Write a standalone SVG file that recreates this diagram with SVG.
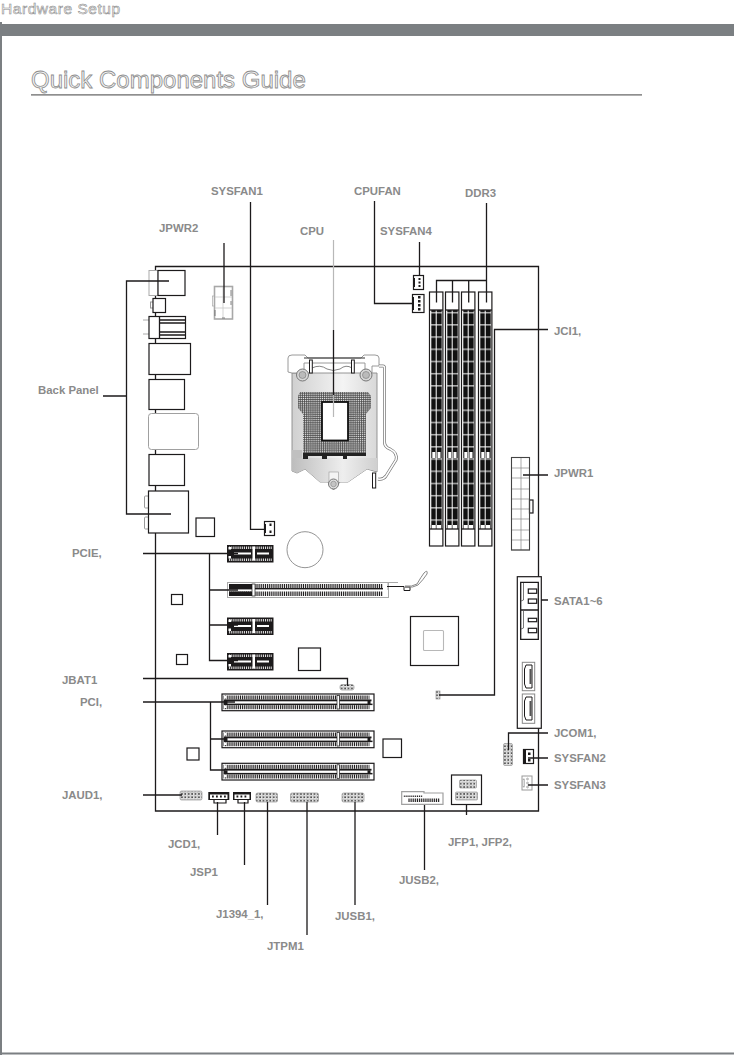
<svg xmlns="http://www.w3.org/2000/svg" xmlns:xlink="http://www.w3.org/1999/xlink" width="734" height="1055" viewBox="0 0 734 1055">
<style>
text{font-family:"Liberation Sans",Arial,sans-serif}
.l{font-size:11.4px;font-weight:700;fill:#8a8a8a}
.c{fill:none;stroke:#1c1a1b;stroke-width:1.3}
.b{fill:#fff;stroke:#1c1a1b;stroke-width:1.2}
.g{fill:#fff;stroke:#a8a8a8;stroke-width:1}
.k{fill:#1c1a1b}
.w{fill:#fff}
.hd{fill:url(#pins);stroke:#999;stroke-width:.7}
</style>
<defs>
<pattern id="dash" width="20" height="12.2" patternUnits="userSpaceOnUse" y="3"><rect width="20" height="12.2" fill="#111"/><rect width="20" height="1" y="5" fill="#fff"/></pattern>
<pattern id="comb" width="1.9" height="4" patternUnits="userSpaceOnUse"><rect width="1.9" height="4" fill="#1c1a1b"/><rect width=".85" height="4" fill="#fff"/></pattern>
<pattern id="grid" width="1.9" height="1.9" patternUnits="userSpaceOnUse"><rect width="1.9" height="1.9" fill="#ececec"/><rect width="1.9" height=".75" fill="#444"/><rect width=".75" height="1.9" fill="#444"/></pattern>
<pattern id="pins" width="3.4" height="3.4" patternUnits="userSpaceOnUse"><rect width="3.4" height="3.4" fill="#e8e8e8"/><rect x="1" y="1" width="1.5" height="1.5" fill="#333"/><path d="M0 .2H3.400M.2 0V3.400" stroke="#aaa" stroke-width=".5"/></pattern>
<linearGradient id="sock" x1="0" x2="1" y1="0" y2="0"><stop offset="0" stop-color="#d0d0d0"/><stop offset=".6" stop-color="#f4f4f4"/><stop offset="1" stop-color="#d8d8d8"/></linearGradient>
<linearGradient id="band" x1="0" x2="1" y1="0" y2="0"><stop offset="0" stop-color="#bdbdbd"/><stop offset=".6" stop-color="#eeeeee"/><stop offset="1" stop-color="#cfcfcf"/></linearGradient>
<g id="dimm">
<rect class="b" x="0" y="0" width="13.4" height="254"/>
<rect x="1.8" y="18" width="4.400" height="215" fill="url(#dash)"/>
<rect x="7.200" y="18" width="5" height="215" fill="url(#dash)"/>
<rect x="2.800" y="160" width="3" height="6" fill="#fff"/><rect x="8" y="160" width="3" height="6" fill="#fff"/>
<line class="c" x1="0" x2="13.4" y1="18" y2="18"/>
<line class="c" x1="0" x2="13.4" y1="237" y2="237"/>
<line x1="1.800" x2="1.800" y1="233" y2="237" stroke="#1c1a1b" stroke-width=".7"/><line x1="6.700" x2="6.700" y1="233" y2="237" stroke="#1c1a1b" stroke-width=".7"/><line x1="12" x2="12" y1="233" y2="237" stroke="#1c1a1b" stroke-width=".7"/>
</g>
<g id="pcie">
<rect class="k" width="46.5" height="17.5"/>
<rect x="1.5" y="1.5" width="43.5" height="2.5" fill="url(#comb)"/>
<rect x="1.5" y="13.5" width="43.5" height="2.5" fill="url(#comb)"/>
<rect x="7" y="7.5" width="17" height="2" class="w"/><rect x="30" y="7.5" width="12" height="2" class="w"/>
<rect x="25.5" y="1.5" width="2.5" height="14" class="w"/>
<rect x="1.5" y="2" width="2.5" height="2.5" class="w"/><rect x="1.5" y="11" width="2.5" height="2.5" class="w"/>
</g>
<g id="pci">
<rect class="b" x="0" y="0" width="152" height="16.700"/>
<rect x="1.500" y="1.500" width="146" height="4" fill="url(#comb)"/>
<rect x="1.500" y="11.200" width="146" height="4" fill="url(#comb)"/>
<rect x="1.500" y="5.500" width="148" height="1.800" class="k"/>
<rect x="1.500" y="9.600" width="149" height="1.500" class="k"/>
<rect x="1.500" y="7" width="4" height="3" class="k"/><rect x="145.500" y="7" width="3" height="3" class="k"/>
<rect x="115" y="1.500" width="2.500" height="13.500" fill="#fff" stroke="#1c1a1b" stroke-width=".7"/>
<rect x="2" y="2" width="2.500" height="2.500" class="w"/><rect x="2" y="11.500" width="2.500" height="2.500" class="w"/>
</g>
</defs>
<g id="page">
<rect width="734" height="1055" fill="#fff"/>
<rect x="0" y="24" width="734" height="12" fill="#7b7f82"/>
<rect x="0" y="22" width="2" height="1033" fill="#7b7f82"/>
<rect x="0" y="1052.500" width="734" height="2" fill="#7b7f82"/>
<text x="1" y="13.500" font-size="15.500" letter-spacing=".55" fill="#f4f4f4" stroke="#8a8a8a" stroke-width=".55">Hardware Setup</text>
<text x="31" y="88" font-size="24" fill="#f4f4f4" stroke="#8d8d8d" stroke-width=".8">Quick Components Guide</text>
<rect x="31" y="94" width="611" height="1.700" fill="#8f8f8f"/>
</g>
<g id="board"><path class="c" d="M155.500 811V266.500H538.500V811Z"/></g>
<g id="back-panel">
<rect x="149" y="270.500" width="9" height="25" fill="#fff" stroke="#aaa"/>
<rect class="b" x="158" y="270.500" width="27" height="25"/>
<rect x="150.500" y="302" width="3" height="6" fill="#fff" stroke="#999"/>
<rect class="b" x="153" y="298.500" width="12.500" height="14"/>
<path d="M143 320H149M143 334H149" stroke="#aaa"/>
<rect class="b" x="149" y="316.500" width="36.500" height="22"/>
<path class="c" d="M159.500 316.500V338.500M159.500 320H185.500M159.500 323H185.500M159.500 332H185.500M159.500 335H185.500" stroke-width="1"/>
<rect class="b" x="149" y="343.500" width="41.500" height="31"/>
<rect class="b" x="149" y="379.500" width="35.500" height="30"/>
<rect x="148.500" y="413.500" width="50" height="36" rx="3" fill="#fff" stroke="#a0a0a0"/>
<rect class="b" x="149" y="454.500" width="35.500" height="31"/>
<rect x="144.500" y="496" width="4" height="12" rx="1" fill="#fff" stroke="#999"/>
<rect x="144.500" y="517" width="4" height="12" rx="1" fill="#fff" stroke="#999"/>
<rect class="b" x="148.500" y="491" width="40" height="42"/>
</g>
<g id="jpwr2">
<rect x="212.500" y="296" width="2" height="10" fill="#fff" stroke="#aaa" stroke-width=".7"/>
<rect x="214.500" y="286.500" width="18" height="32.500" fill="#fff" stroke="#a8a8a8" stroke-width="1.600"/>
<path d="M223 287V319M215 297H232M215 308H232" stroke="#c8c8c8" stroke-width=".8"/>
<path d="M231 290V296M231 301V305M222 318H225M215 310V316" stroke="#666" stroke-width=".8"/>
</g>
<g id="sysfan4"><rect class="b" x="413.500" y="275.500" width="10" height="14"/><rect class="k" x="414" y="278" width="1" height="9"/><rect class="k" x="418.500" y="278" width="2" height="2"/><rect class="k" x="418.500" y="281.500" width="2" height="2"/><rect class="k" x="418.500" y="285" width="2" height="2"/></g>
<g id="cpufan"><rect class="b" x="412.500" y="294.500" width="11.500" height="18"/><rect class="k" x="413" y="297" width="1" height="13"/><rect class="k" x="418" y="296" width="2.500" height="2.500"/><rect class="k" x="418" y="300" width="2.500" height="2.500"/><rect class="k" x="418" y="304" width="2.500" height="2.500"/><rect class="k" x="418" y="308" width="2.500" height="2.500"/></g>
<g id="ddr3">
<use xlink:href="#dimm" href="#dimm" x="429.500" y="292"/>
<use xlink:href="#dimm" href="#dimm" x="445.500" y="292"/>
<use xlink:href="#dimm" href="#dimm" x="461.500" y="292"/>
<use xlink:href="#dimm" href="#dimm" x="478.500" y="292"/>
</g>
<g id="cpu">
<path d="M292 373H377V472L367 469L348 482H340L333.500 490L328 482H320L305 469L297 473L292 471Z" fill="url(#sock)" stroke="#8a8a8a" stroke-width=".9"/>
<path d="M292 450H302V458H292Z" fill="#c0c0c0"/>
<path d="M292 458H377V471L367 469L348 482H320L305 469L297 473L292 471Z" fill="url(#band)"/>
<path d="M300 392H368L371 396V408L366 414V453H303V414L298 408V396Z" fill="url(#grid)"/>
<path d="M303 453H366V456H347V459H343V456H327V459H322V456H308V459H303Z" fill="#222"/>
<rect x="307" y="413" width="6" height="8" fill="#888" opacity=".35"/><rect x="355" y="413" width="6" height="8" fill="#888" opacity=".35"/><rect x="307" y="443" width="6" height="8" fill="#888" opacity=".35"/><rect x="331" y="443" width="6" height="8" fill="#888" opacity=".35"/><rect x="355" y="443" width="6" height="8" fill="#888" opacity=".35"/>
<rect x="322" y="402" width="26" height="38.500" fill="#fff" stroke="#111" stroke-width="1.800"/>
<path d="M288 372V358Q288 355 292 355H305L308 358H361L364 355H375Q379 355 379 358V366H372V373H365V363H304V373H292Z" fill="#fff" stroke="#8e8e8e" stroke-width=".9"/>
<path d="M304 358H365" stroke="#333" stroke-width="1.200"/>
<path d="M312 368Q320 364 327 369Q333 372 340 369Q346 364 352 368" fill="#fff" stroke="#777" stroke-width=".9"/>
<rect x="309.500" y="360" width="2.800" height="13" fill="#fff" stroke="#1c1a1b"/><rect x="351.500" y="360" width="2.800" height="13" fill="#fff" stroke="#1c1a1b"/>
<circle cx="302.500" cy="375" r="6" fill="#d8d8d8" stroke="#777"/><circle cx="302.500" cy="375" r="3.500" fill="#bbb" stroke="#777" stroke-width=".6"/>
<circle cx="366" cy="375" r="6" fill="#d8d8d8" stroke="#777"/><circle cx="366" cy="375" r="3.500" fill="#bbb" stroke="#777" stroke-width=".6"/>
<rect x="329" y="472" width="9.500" height="11" fill="#f4f4f4" stroke="#999" stroke-width=".6"/>
<circle cx="333.500" cy="484" r="5" fill="#ddd" stroke="#777"/><circle cx="333.500" cy="484" r="2.800" fill="#c4c4c4" stroke="#777" stroke-width=".5"/>
<path d="M379 366H383Q384.500 366 384.500 368V442Q384.500 447 390 449Q398 453 396 460L386 476Q383 480 378 479" fill="none" stroke="#7a7a7a" stroke-width="3"/>
<path d="M379 366H383Q384.500 366 384.500 368V442Q384.500 447 390 449Q398 453 396 460L386 476Q383 480 378 479" fill="none" stroke="#fff" stroke-width="1.500"/>
<rect x="372.500" y="473" width="3.200" height="15" fill="#fff" stroke="#1c1a1b"/>
</g>
<g id="jpwr1">
<rect class="g" x="511.500" y="457.500" width="18" height="92.500"/>
<path d="M521 458V550M512 468H529M512 478H529M512 489H529M512 499H529M512 509H529M512 519H529M512 530H529M512 540H529" stroke="#888" stroke-width=".7"/>
<rect class="b" x="529.500" y="500" width="3.500" height="13"/>
<rect x="511.500" y="457.500" width="18" height="92.500" fill="none" stroke="#444" stroke-width="1.100"/>
</g>
<g id="sysfan1"><rect class="b" x="264.500" y="521.500" width="10" height="14"/><rect class="k" x="265" y="524" width="1" height="9"/><rect class="k" x="269.500" y="523.500" width="2" height="2.500"/><rect class="k" x="269.500" y="530.500" width="2" height="2.500"/></g>
<g id="chips">
<rect class="b" x="196" y="518" width="18.500" height="18.500"/>
<circle cx="305" cy="549.700" r="18" fill="#fff" stroke="#888" stroke-width=".9"/>
<rect class="b" x="171.500" y="594.500" width="11" height="10"/>
<rect class="b" x="176.500" y="654.500" width="11" height="10"/>
<rect class="b" x="298.500" y="648" width="22" height="22.500"/>
<rect class="b" x="187" y="748" width="12" height="12"/>
<rect class="b" x="383" y="739" width="18.500" height="18.500"/>
</g>
<g id="pcie-slots">
<use xlink:href="#pcie" href="#pcie" x="227" y="545"/>
<use xlink:href="#pcie" href="#pcie" x="227" y="617.500"/>
<use xlink:href="#pcie" href="#pcie" x="227" y="653"/>
<rect x="227.500" y="582.500" width="161" height="15" fill="#fff" stroke="#a8a8a8"/>
<rect x="229" y="584" width="154" height="4" fill="url(#comb)"/>
<rect x="229" y="591.500" width="154" height="4.500" fill="url(#comb)"/>
<rect x="229" y="584" width="25" height="4" class="k"/><rect x="229" y="591.500" width="25" height="4.500" class="k"/>
<rect x="229" y="588" width="154" height="1.400" class="k"/>
<rect x="252" y="584" width="3" height="12" fill="#fff" stroke="#1c1a1b" stroke-width=".7"/>
<path d="M383 582.500H398M388 582.500V590" fill="none" stroke="#a8a8a8"/>
<path d="M387 586.500H404V590.500H410V587H405" fill="#fff" stroke="#1c1a1b"/>
<path d="M405 586Q412 587 417 584Q421 577 424 573Q428 569 427 574Q423 580 418 585Q412 588 408 587" fill="none" stroke="#888"/>
</g>
<g id="pci-slots">
<use xlink:href="#pci" href="#pci" x="222" y="694"/>
<use xlink:href="#pci" href="#pci" x="222" y="731"/>
<use xlink:href="#pci" href="#pci" x="222" y="763.300"/>
</g>
<g id="jbat1"><rect x="340" y="684.500" width="14" height="5.500" rx="2" class="hd"/></g>
<g id="chipset">
<rect class="b" x="410.500" y="616.500" width="48" height="49"/>
<rect x="423.500" y="630.500" width="20" height="20" rx="1" fill="#fff" stroke="#b8b8b8" stroke-width="1.100"/>
</g>
<g id="jci1"><rect x="436" y="691" width="4" height="8" class="hd"/></g>
<g id="sata">
<rect class="b" x="517.300" y="576.700" width="24" height="151.600"/>
<path class="c" d="M538.300 582.300H520.700V639.300H538.300ZM520.700 610H538.300"/>
<path d="M523.500 583V600L521 601M523.500 611V628L521 629" fill="none" stroke="#555" stroke-width=".8"/>
<rect class="b" x="528.300" y="589" width="8.400" height="4.300"/><rect class="b" x="528.300" y="599" width="8.400" height="4.300"/>
<rect class="b" x="528.300" y="618.300" width="8.400" height="3.400"/><rect class="b" x="528.300" y="628.300" width="8.400" height="4.400"/>
<rect x="522.300" y="662.300" width="12.400" height="28.400" fill="#fff" stroke="#888"/>
<rect x="522.300" y="694" width="12.400" height="29.300" fill="#fff" stroke="#888"/>
<path d="M526 665H532V688H526L524.500 684V669Z" fill="#fff" stroke="#1c1a1b"/>
<path d="M526 697H532V720H526L524.500 716V701Z" fill="#fff" stroke="#1c1a1b"/>
<rect x="529.500" y="669" width="2" height="15" fill="#555"/><rect x="529.500" y="701" width="2" height="15" fill="#555"/>
</g>
<g id="jcom1"><rect x="503.500" y="743.500" width="9" height="22" rx="1.500" class="hd"/></g>
<g id="sysfan2"><rect class="b" x="523.500" y="749.500" width="10" height="14"/><rect class="k" x="524" y="750" width="2" height="13"/><rect class="k" x="528" y="752.500" width="2.500" height="2.500"/><rect class="k" x="528" y="759" width="2.500" height="2.500"/></g>
<g id="sysfan3"><rect x="522" y="776" width="10" height="14" fill="#fff" stroke="#999"/><rect x="523" y="779" width="1.500" height="8" fill="#fff" stroke="#999" stroke-width=".6"/><circle cx="527.500" cy="779" r=".9" fill="none" stroke="#777" stroke-width=".6"/><circle cx="527.500" cy="783" r=".9" fill="none" stroke="#777" stroke-width=".6"/><circle cx="527.500" cy="787" r=".9" fill="none" stroke="#777" stroke-width=".6"/></g>
<g id="jaud1"><rect x="180" y="791" width="22" height="9" rx="1.500" class="hd"/></g>
<g id="jcd1"><path d="M214 799V803H226V799" class="b"/><rect class="k" x="208.300" y="792" width="21" height="8"/><rect class="w" x="210" y="794.500" width="17.500" height="4.500"/><rect class="k" x="212" y="795.500" width="1.800" height="2"/><rect class="k" x="216" y="795.500" width="1.800" height="2"/><rect class="k" x="220" y="795.500" width="1.800" height="2"/><rect class="k" x="224" y="795.500" width="1.800" height="2"/></g>
<g id="jsp1"><path d="M238 799V803H248V799" class="b"/><rect class="k" x="233" y="792" width="18" height="8"/><rect class="w" x="234.500" y="794.500" width="15" height="4.500"/><rect class="k" x="236.500" y="795.500" width="1.800" height="2"/><rect class="k" x="240.500" y="795.500" width="1.800" height="2"/><rect class="k" x="244.500" y="795.500" width="1.800" height="2"/></g>
<g id="j1394"><rect x="256" y="793" width="21.500" height="9" rx="1.500" class="hd"/></g>
<g id="jtpm1"><rect x="290.500" y="793" width="28" height="9" rx="1.500" class="hd"/></g>
<g id="jusb1"><rect x="342" y="793" width="22" height="9" rx="1.500" class="hd"/></g>
<g id="jusb2"><path d="M401.700 791.700H424V793H443V804.300H401.700Z" fill="#fff" stroke="#a0a0a0" stroke-width="1.200"/><rect x="403.500" y="795.500" width="19" height="1.500" fill="url(#comb)"/><rect x="408" y="798.500" width="32" height="3.500" fill="url(#comb)"/></g>
<g id="jfp">
<rect class="b" x="451.500" y="775" width="30" height="29.500"/>
<rect x="459.500" y="780" width="17" height="8" rx="1" class="hd"/>
<rect x="455.500" y="792" width="22" height="8" rx="1" class="hd"/>
</g>
<g id="connectors">
<path class="c" d="M103 396H126.500M169 281H126.500V514H171"/>
<path class="c" d="M250.500 202V529.300H266"/>
<path class="c" d="M224 243V303"/>
<path class="c" d="M374.500 201V303.500H412"/>
<path class="c" d="M419.500 242V275"/>
<path class="c" d="M486.500 203V280.500H436.500V302.500M452.500 280.500V302.500M468.700 280.500V302.500M486.500 280.500V302.500"/>
<path d="M333.500 240V330M333.500 395V417" stroke="#b8b8b8" stroke-width="1.200" fill="none"/>
<path class="c" d="M333.500 330V395"/>
<path class="c" d="M548 329.500H494.500V695H439"/>
<path class="c" d="M143 553.500H238M209.500 553.500V660.500H238M209.500 590H238M209.500 625H238"/>
<path class="c" d="M143 678.500H347.500V686"/>
<path class="c" d="M143 702H235M210.500 702V770H225M210.500 739H225"/>
<path class="c" d="M143 795H182"/>
<path class="c" d="M217.500 802V835M244.500 802V865M267.500 802V905M307 802V935M355 802V905M424.500 805V870M466.500 805V815"/>
<path class="c" d="M523 475H548M541 600H548M548 733H508.500V750M528 758H548M528 785H548"/>
</g>
<g id="labels">
<text class="l" x="211" y="195.300">SYSFAN1</text>
<text class="l" x="354" y="195">CPUFAN</text>
<text class="l" x="465" y="197">DDR3</text>
<text class="l" x="159" y="231.700">JPWR2</text>
<text class="l" x="300" y="235">CPU</text>
<text class="l" x="380" y="235">SYSFAN4</text>
<text class="l" x="554" y="335">JCI1,</text>
<text class="l" x="38" y="394">Back Panel</text>
<text class="l" x="554" y="477">JPWR1</text>
<text class="l" x="72" y="557">PCIE,</text>
<text class="l" x="554" y="605">SATA1~6</text>
<text class="l" x="62" y="684">JBAT1</text>
<text class="l" x="80" y="706">PCI,</text>
<text class="l" x="554" y="737">JCOM1,</text>
<text class="l" x="554" y="762">SYSFAN2</text>
<text class="l" x="62" y="799">JAUD1,</text>
<text class="l" x="554" y="789">SYSFAN3</text>
<text class="l" x="168" y="848">JCD1,</text>
<text class="l" x="448" y="846">JFP1, JFP2,</text>
<text class="l" x="190" y="876">JSP1</text>
<text class="l" x="399" y="884">JUSB2,</text>
<text class="l" x="216" y="918">J1394_1,</text>
<text class="l" x="335" y="920">JUSB1,</text>
<text class="l" x="267" y="950">JTPM1</text>
</g>
</svg>
